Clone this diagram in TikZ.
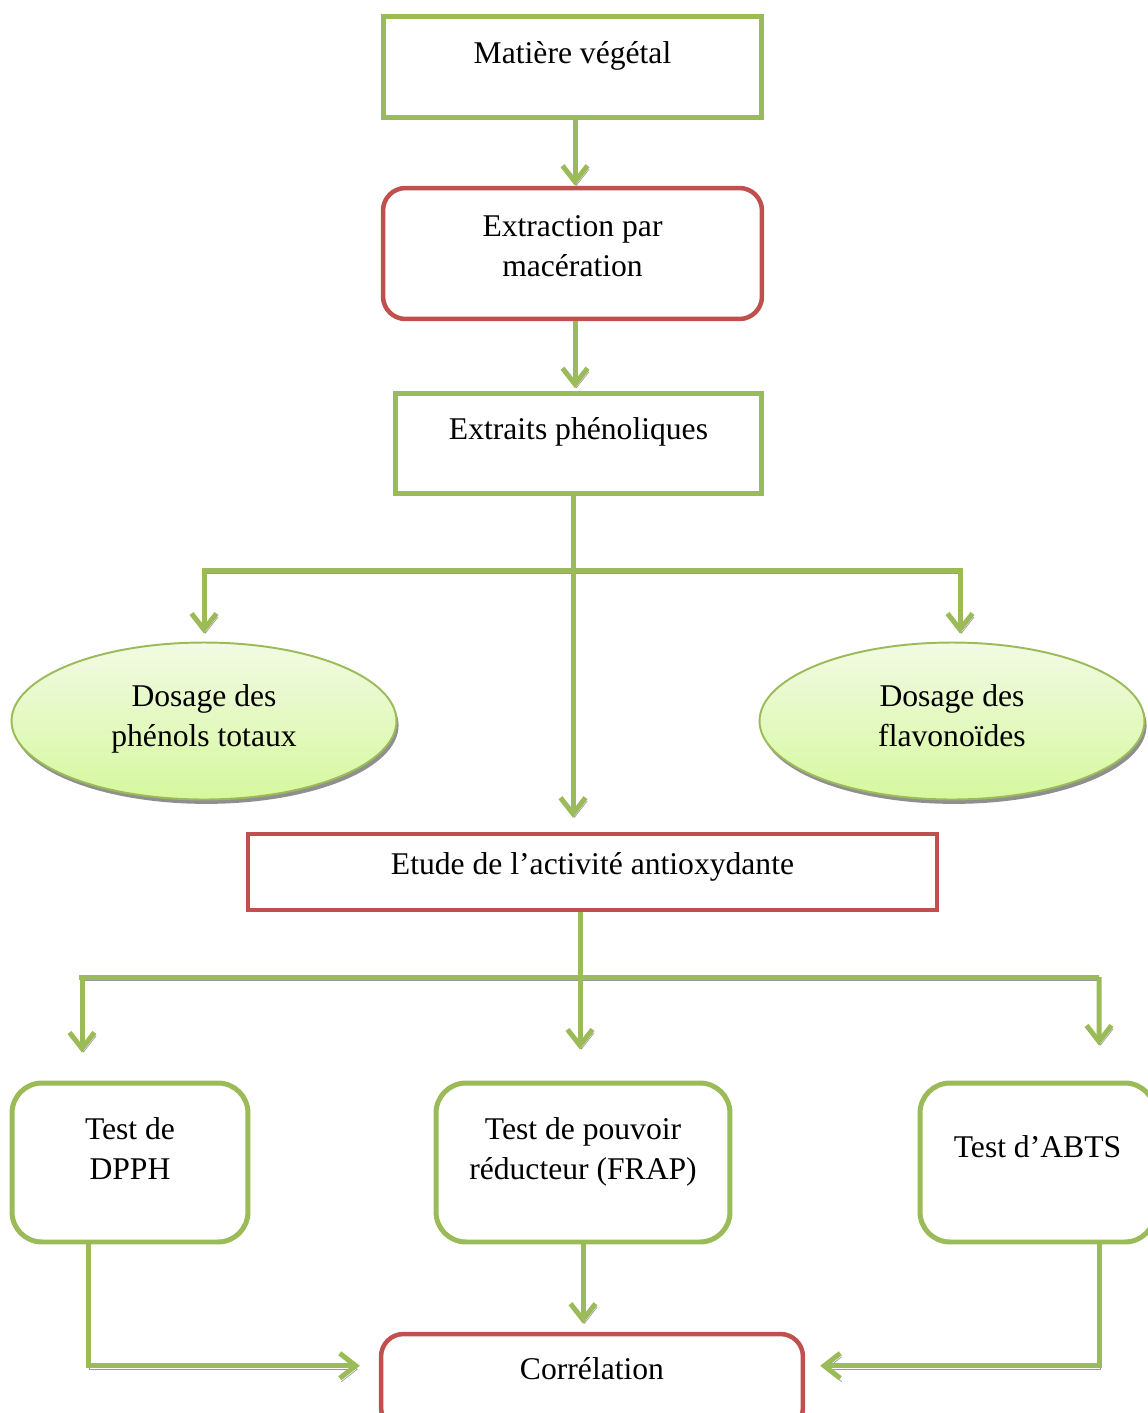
\documentclass[tikz,border=0pt]{standalone}
\usepackage{fontspec}
\setmainfont{Liberation Serif}
\usetikzlibrary{shapes.geometric, arrows.meta, positioning, calc, shadows}
\definecolor{leaf}{RGB}{155,187,89}
\definecolor{brick}{RGB}{192,80,77}
\definecolor{lighttop}{RGB}{242,250,228}
\definecolor{lightbot}{RGB}{214,248,158}

\begin{document}
\begin{tikzpicture}[
    x=0.02cm, y=-0.02cm,
    every node/.style={font=\fontsize{18}{23}\selectfont, align=center,
                       inner sep=0pt, text height=12pt},
    twolines/.style={text height=35pt},
    greenbox/.style={rectangle, draw=leaf, line width=1mm, fill=white},
    redbox/.style={rectangle, draw=brick, line width=0.9mm, fill=white},
    greenround/.style={greenbox, rounded corners=0.6cm},
    redround/.style={redbox, rounded corners=0.45cm},
    dosage/.style={ellipse, draw=leaf, line width=1.1pt,
                   top color=lighttop, bottom color=lightbot,
                   drop shadow={shadow xshift=1.2pt, shadow yshift=-2.5pt,
                                fill=black!55, opacity=0.8},
                   minimum width=7.7cm, minimum height=3.14cm},
    flow/.style={-{Straight Barb[length=3.2mm, width=5mm]},
                 line width=1mm, color=leaf,
                 preaction={draw=black!40,
                            transform canvas={shift={(1.5,3.5)}}}},
    link/.style={line width=1mm, color=leaf,
                 preaction={draw=black!40,
                            transform canvas={shift={(1.5,3.5)}}}},
]
\useasboundingbox (0,0) rectangle (1148,1413);

% ==========================================================
% Extraction chain
% ==========================================================
\node[greenbox, minimum width=7.58cm, minimum height=2.04cm,
      text depth=16.5pt] (mat) at (572.5,67) {Matière végétal};
\node[redround, minimum width=7.58cm, minimum height=2.62cm,
      twolines, text depth=8.4pt] (extr) at (572.5,253.5)
    {Extraction par\\ macération};
\node[greenbox, minimum width=7.34cm, minimum height=2.02cm,
      text depth=16pt] (extraits) at (578.5,443.5) {Extraits phénoliques};

\draw[flow] ($(mat.south)+(2.5,0)$) -- ($(extr.north)+(2.5,0)$);
\draw[flow] ($(extr.south)+(2.5,0)$) -- ($(extr.south)+(2.5,67)$);

% ==========================================================
% Dosages
% ==========================================================
\node[dosage, twolines, text depth=5.5pt] (dospt) at (204,721)
    {Dosage des\\ phénols totaux};
\node[dosage, twolines, text depth=5.5pt] (dosfl) at (952,721)
    {Dosage des\\ flavonoïdes};

\node[redbox, minimum width=13.78cm, minimum height=1.52cm,
      text depth=8.6pt] (etude) at (592.5,872)
    {Etude de l’activité antioxydante};

\coordinate (split1) at (573,570);
\draw[link] (split1 |- extraits.south) -- (split1);
\draw[flow, shorten >=1.6mm] (split1) -| (dospt.north);
\draw[flow, shorten >=1.6mm] (split1) -| ($(dosfl.north)+(8,0)$);
\draw[flow, shorten >=2.8mm] (split1) -- (split1 |- etude.north);

% ==========================================================
% Tests
% ==========================================================
\node[greenround, minimum width=4.72cm, minimum height=3.18cm,
      twolines, text depth=15.2pt] (dpph) at (130,1162.5) {Test de\\ DPPH};
\node[greenround, minimum width=5.88cm, minimum height=3.18cm,
      twolines, text depth=15.2pt] (frap) at (583,1162.5)
    {Test de pouvoir\\ réducteur (FRAP)};
\node[greenround, minimum width=4.7cm, minimum height=3.18cm,
      text depth=18.2pt] (abts) at (1037.5,1162.5) {Test d’ABTS};

\coordinate (split2) at (580,977);
\draw[link] (split2 |- etude.south) -- (split2);
\draw[link] ($(split2)+(-501,0)$) -- ($(split2)+(519,0)$);
\draw[flow, shorten >=5.6mm] ($(split2)+(-498,0)$) -- ($(dpph.north)+(-48,0)$);
\draw[flow, shorten >=6.2mm] (split2) -- (split2 |- frap.north);
\draw[flow, shorten >=7mm] ($(split2)+(519,0)$) -- ($(abts.north)+(61.5,0)$);

% ==========================================================
% Correlation
% ==========================================================
\node[redround, minimum width=8.44cm, minimum height=1.92cm,
      text depth=14.3pt] (corr) at (592,1382) {Corrélation};

\draw[flow, shorten >=1.6mm] (frap.south) -- (frap.south |- corr.north);
\draw[flow, shorten >=3.8mm] ($(dpph.south)+(-42,0)$)
    |- ($(corr.north west)+(0,34)$);
\draw[flow, shorten >=3mm] ($(abts.south)+(61.5,0)$)
    |- ($(corr.north east)+(0,34)$);

\end{tikzpicture}
\end{document}
